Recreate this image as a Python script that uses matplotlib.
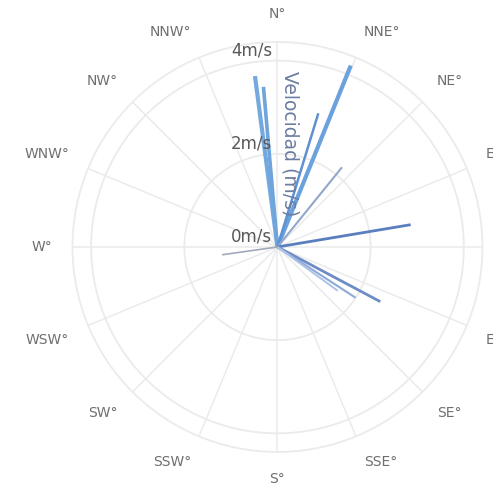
import numpy as np
import matplotlib
matplotlib.use("Agg")
import matplotlib.pyplot as plt
from matplotlib.transforms import offset_copy

# compass sectors, clockwise from north
directions = ["N°", "NNE°", "NE°", "ENE°", "E°", "ESE°", "SE°", "SSE°",
              "S°", "SSW°", "SW°", "WSW°", "W°", "WNW°", "NW°", "NNW°"]
radial_ticks = [0, 2, 4]
radial_tick_labels = ["0m/s", "2m/s", "4m/s"]

# wind records: direction (degrees from north) and speed (m/s)
wind_dir_deg = [352.5, 355.0, 22.0, 17.0, 39.0, 80.5, 118.0, 123.0, 126.0, 262.0]
wind_speed = [3.7, 3.45, 4.2, 3.0, 2.2, 2.9, 2.5, 2.0, 1.6, 1.2]

# per-record line styling
line_colors = ["#74a9df", "#6fa4dc", "#6aa2de", "#5f90d0", "#93a6cc",
               "#5a7fc0", "#6e8cc6", "#8ea9d8", "#adc2e4", "#a0a8bb"]
line_widths = [3.0, 2.6, 3.0, 1.8, 1.5, 2.0, 2.0, 1.5, 1.4, 1.2]

r_max = 4.4
grid_color = "#ebebeb"

fig = plt.figure(figsize=(4.93, 4.95), dpi=100)
fig.patch.set_facecolor("white")
ax = fig.add_axes([0.147, 0.0869, 0.8316, 0.8283], projection="polar")
ax.set_theta_zero_location("N")
ax.set_theta_direction(-1)
ax.set_ylim(0, r_max)
ax.set_xticks([])
ax.set_yticks([])
ax.grid(False)
ax.spines["polar"].set_color(grid_color)
ax.spines["polar"].set_linewidth(1.3)

# circular gridlines and sector spokes
theta_full = np.linspace(0, 2 * np.pi, 721)
for r in radial_ticks[1:]:
    ax.plot(theta_full, np.full_like(theta_full, r), color=grid_color, lw=1.3, zorder=1)
for k in range(len(directions)):
    a = np.deg2rad(k * 360 / len(directions))
    ax.plot([a, a], [0, r_max], color=grid_color, lw=1.1, zorder=1)

# one radial segment per wind record
for d, s, c, w in zip(wind_dir_deg, wind_speed, line_colors, line_widths):
    a = np.deg2rad(d)
    ax.plot([a, a], [0, s], color=c, lw=w, solid_capstyle="butt", zorder=3)

# direction labels around the rim, anchored by their inner edge
label_r = r_max * 1.10
for k, name in enumerate(directions):
    a = np.deg2rad(k * 360 / len(directions))
    sx, cy = np.sin(a), np.cos(a)
    ha = "left" if sx > 0.1 else ("right" if sx < -0.1 else "center")
    va = "bottom" if cy > 0.1 else ("top" if cy < -0.1 else "center")
    ax.text(a, label_r, name, ha=ha, va=va, fontsize=10,
            color="#6f6f6f", family="DejaVu Sans", clip_on=False)

# speed labels along the north axis
lab_tr = offset_copy(ax.transData, fig=fig, x=-5, y=10, units="dots")
for r, lab in zip(radial_ticks, radial_tick_labels):
    ax.text(0, r, lab, transform=lab_tr, ha="right", va="center",
            fontsize=12, color="#595959", family="DejaVu Sans", zorder=4)

fig.text(0.588, 0.709, "Velocidad (m/s)", rotation=-90, ha="center", va="center",
         fontsize=13.5, color="#6b7ca0", family="DejaVu Sans", zorder=5)

fig.savefig("out.png", dpi=100, facecolor="white")
